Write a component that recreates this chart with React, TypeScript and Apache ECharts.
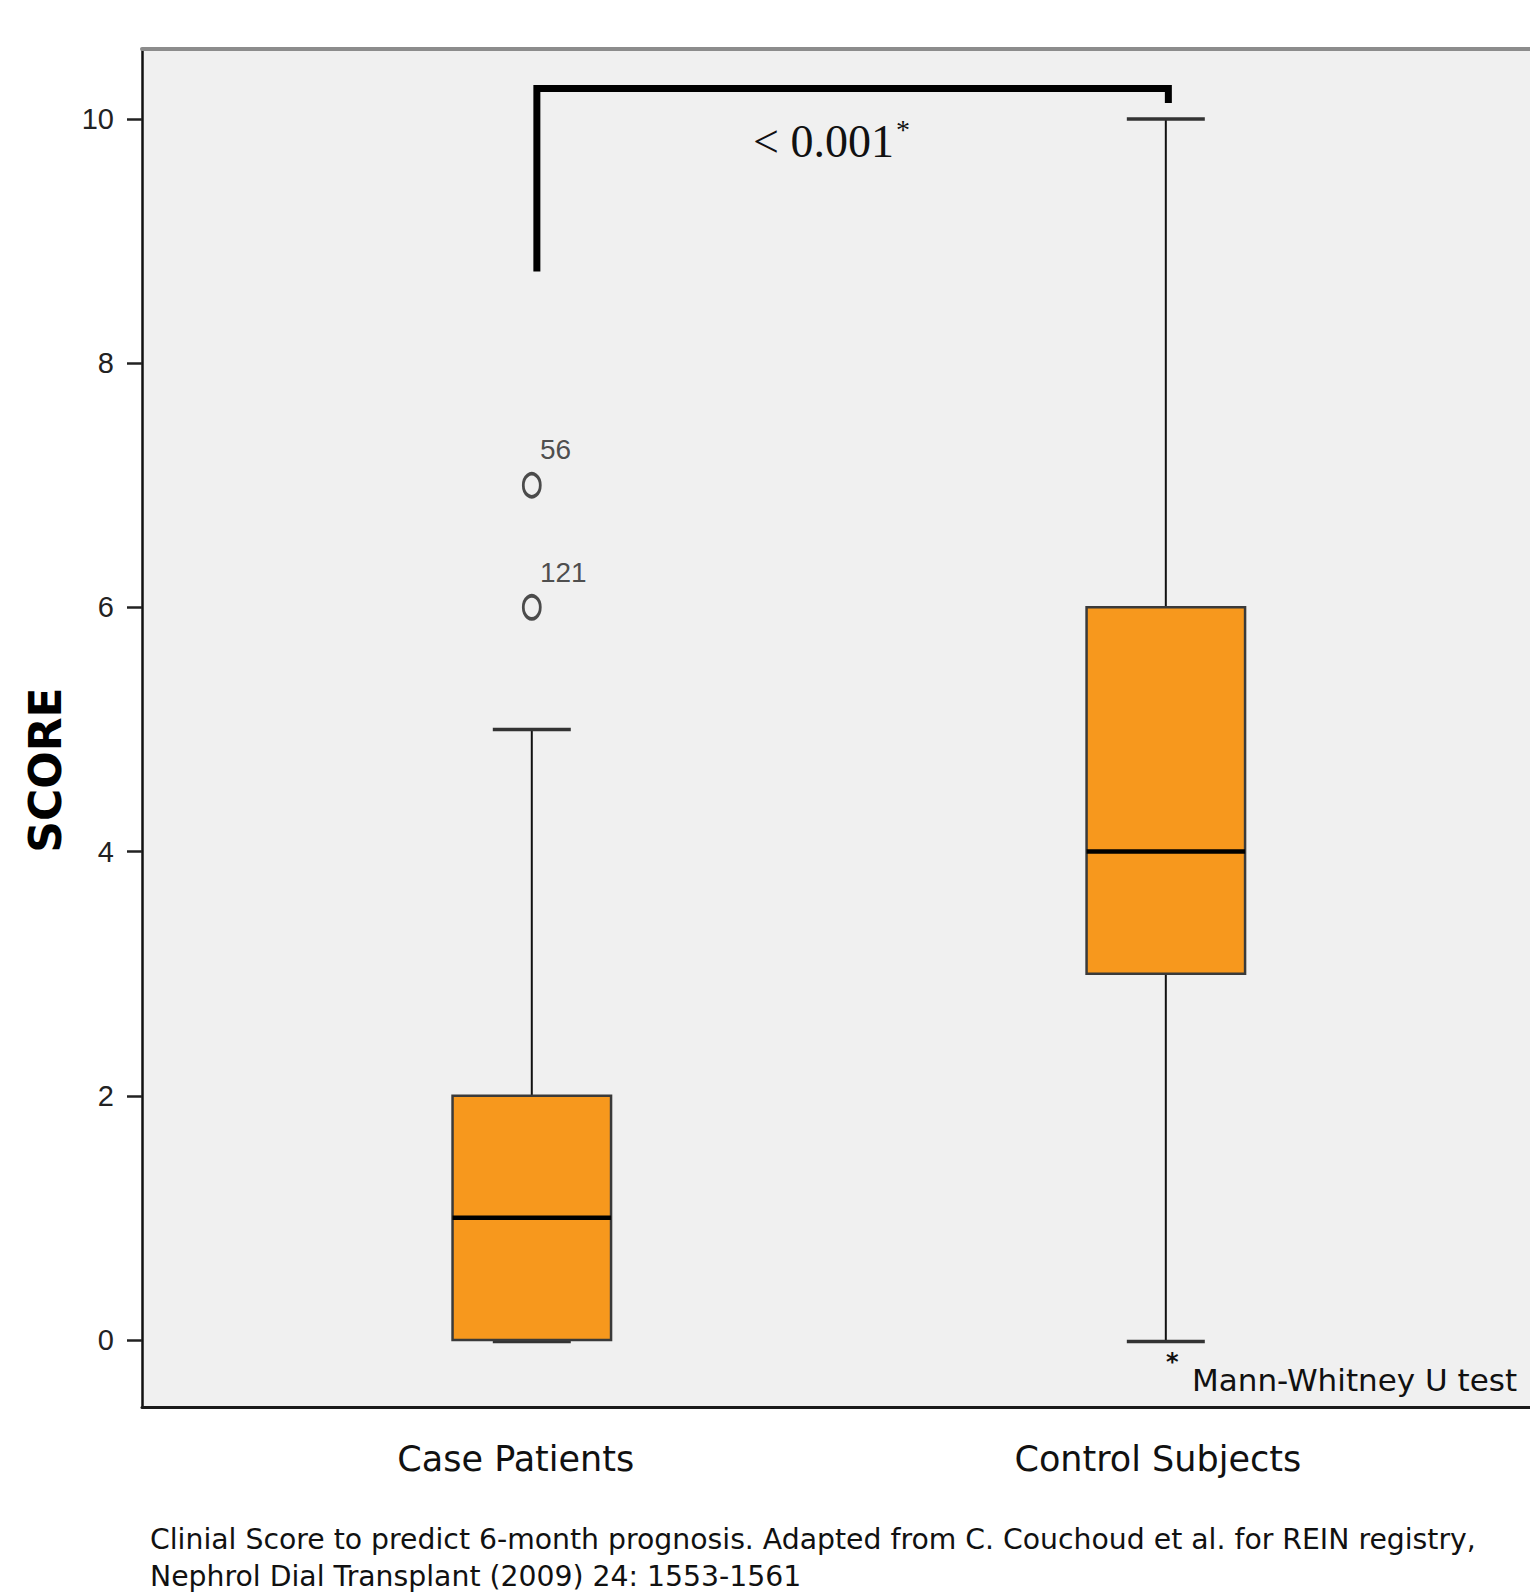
import React, { useEffect, useRef } from 'react';
import * as echarts from 'echarts';

const categories = ['Case Patients', 'Control Subjects'];
const whiskerLow = [0, 0];
const quartile1 = [0, 3];
const medians = [1, 4];
const quartile3 = [2, 6];
const whiskerHigh = [5, 10];
const outlierGroup = [0, 0];
const outlierValues = [7, 6];
const outlierIds = ['56', '121'];
const yTicks = [0, 2, 4, 6, 8, 10];
const bracketX = [0.008, 0.008, 1.004, 1.004];
const bracketY = [8.75, 10.25, 10.25, 10.13];
const pValueText = '< 0.001';
const testNote = 'Mann-Whitney U test';
const yTitle = 'SCORE';
const captionLines = [
  'Clinial Score to predict 6-month prognosis. Adapted from C. Couchoud et al. for REIN registry,',
  'Nephrol Dial Transplant (2009) 24: 1553-1561',
];

const NARROW = '"Liberation Sans", Arial, sans-serif';
const HUMAN = '"DejaVu Sans", sans-serif';
const SERIF = '"Liberation Serif", "Times New Roman", serif';

function txt(text: string, x: number, y: number, font: string, extra: any = {}) {
  return {
    type: 'text',
    x,
    y,
    z: 100,
    silent: true,
    ...extra,
    style: {
      text,
      font,
      fill: '#111',
      align: 'left',
      textAlign: 'left',
      verticalAlign: 'middle',
      textVerticalAlign: 'middle',
      ...(extra.style || {}),
    },
  };
}

export default function App() {
  const ref = useRef<HTMLDivElement>(null);
  useEffect(() => {
    if (!ref.current) return;
    const chart = echarts.init(ref.current, undefined, { renderer: 'svg' });
    const xMin = -0.6148;
    const xMax = 1.5744;
    const catStyle = { fontFamily: HUMAN, fontSize: 35, color: '#111' };
    const option: any = {
      animation: false,
      backgroundColor: '#ffffff',
      grid: {
        left: 142,
        right: 0,
        top: 49,
        bottom: 186,
        show: true,
        backgroundColor: '#F0F0F0',
        borderWidth: 0,
      },
      xAxis: [
        {
          type: 'value',
          min: xMin,
          max: xMax,
          position: 'bottom',
          axisLine: { show: true, onZero: false, lineStyle: { color: '#1a1a1a', width: 3 } },
          axisTick: { show: false },
          splitLine: { show: false },
          axisLabel: {
            customValues: [0, 1],
            formatter: (v: number) => {
              const i = Math.round(v);
              return i === 0 ? `{a|${categories[0]}}` : `{b|${categories[1]}}`;
            },
            margin: 52,
            verticalAlign: 'middle',
            ...catStyle,
            rich: {
              a: { ...catStyle, padding: [0, 32, 0, 0] },
              b: { ...catStyle, padding: [0, 16, 0, 0] },
            },
          },
        },
        {
          type: 'value',
          min: xMin,
          max: xMax,
          position: 'top',
          axisLine: { show: true, onZero: false, lineStyle: { color: '#8c8c8c', width: 4 } },
          axisTick: { show: false },
          axisLabel: { show: false },
          splitLine: { show: false },
        },
      ],
      yAxis: {
        type: 'value',
        min: -0.549,
        max: 10.573,
        axisLine: { show: true, onZero: false, lineStyle: { color: '#111', width: 2.5 } },
        axisTick: { show: true, length: 15, customValues: yTicks, lineStyle: { color: '#222', width: 2.5 } },
        axisLabel: { customValues: yTicks, margin: 28, fontFamily: NARROW, fontSize: 29, color: '#222' },
        splitLine: { show: false },
      },
      series: [
        {
          type: 'custom',
          name: 'score',
          xAxisIndex: 0,
          data: categories.map((_, i) => [i, whiskerLow[i], quartile1[i], medians[i], quartile3[i], whiskerHigh[i]]),
          encode: { x: 0, y: [1, 2, 3, 4, 5] },
          renderItem: (params: any, api: any) => {
            const i = api.value(0);
            const pLow = api.coord([i, api.value(1)]);
            const pQ1 = api.coord([i, api.value(2)]);
            const pMed = api.coord([i, api.value(3)]);
            const pQ3 = api.coord([i, api.value(4)]);
            const pHigh = api.coord([i, api.value(5)]);
            const band = api.size([1, 0])[0];
            const boxW = band * 0.25;
            const capW = band * 0.123;
            const cx = pLow[0];
            const whisk = { stroke: '#111', lineWidth: 2 };
            const cap = { stroke: '#333', lineWidth: 3.5 };
            return {
              type: 'group',
              children: [
                { type: 'line', shape: { x1: cx, y1: pHigh[1], x2: cx, y2: pQ3[1] }, style: whisk },
                { type: 'line', shape: { x1: cx, y1: pQ1[1], x2: cx, y2: pLow[1] }, style: whisk },
                { type: 'line', shape: { x1: cx - capW / 2, y1: pHigh[1], x2: cx + capW / 2, y2: pHigh[1] }, style: cap },
                { type: 'line', shape: { x1: cx - capW / 2, y1: pLow[1] + 1.5, x2: cx + capW / 2, y2: pLow[1] + 1.5 }, style: cap },
                {
                  type: 'rect',
                  shape: { x: cx - boxW / 2, y: pQ3[1], width: boxW, height: pQ1[1] - pQ3[1] },
                  style: { fill: '#F7981D', stroke: '#3a3a3a', lineWidth: 2.5 },
                },
                {
                  type: 'line',
                  shape: { x1: cx - boxW / 2, y1: pMed[1], x2: cx + boxW / 2, y2: pMed[1] },
                  style: { stroke: '#000', lineWidth: 4.5 },
                },
              ],
            };
          },
        },
        {
          type: 'scatter',
          name: 'outliers',
          data: outlierGroup.map((g, i) => ({ value: [g, outlierValues[i]], name: outlierIds[i] })),
          symbol: 'circle',
          symbolSize: [17, 23],
          itemStyle: { color: 'rgba(0,0,0,0)', borderColor: '#222', borderWidth: 3.2 },
          label: {
            show: true,
            formatter: '{b}',
            position: [18, -22],
            align: 'left',
            verticalAlign: 'middle',
            fontFamily: NARROW,
            fontSize: 28,
            color: '#222',
          },
          z: 5,
        },
        {
          type: 'line',
          name: 'bracket',
          data: bracketX.map((x, i) => [x, bracketY[i]]),
          symbol: 'none',
          silent: true,
          lineStyle: { color: '#000', width: 7, cap: 'butt', join: 'miter' },
          z: 6,
        },
      ],
      graphic: [
        txt(yTitle, 45.5, 770, `bold 44px ${HUMAN}`, {
          rotation: Math.PI / 2,
          style: { align: 'center', textAlign: 'center', fill: '#000' },
        }),
        txt(pValueText, 753, 141, `46px ${SERIF}`),
        txt('*', 896, 129, `28px ${SERIF}`),
        txt('*', 1166, 1362, `bold 24px ${HUMAN}`),
        txt(testNote, 1192, 1380, `31px ${HUMAN}`),
        txt(captionLines[0], 150, 1539, `28.3px ${HUMAN}`),
        txt(captionLines[1], 150, 1576, `28.3px ${HUMAN}`),
      ],
    };
    chart.setOption(option);
    return () => chart.dispose();
  }, []);
  return (
    <div
      ref={ref}
      style={{ position: 'absolute', left: 0, top: 0, width: 1530, height: 1593, background: '#fff' }}
    />
  );
}
